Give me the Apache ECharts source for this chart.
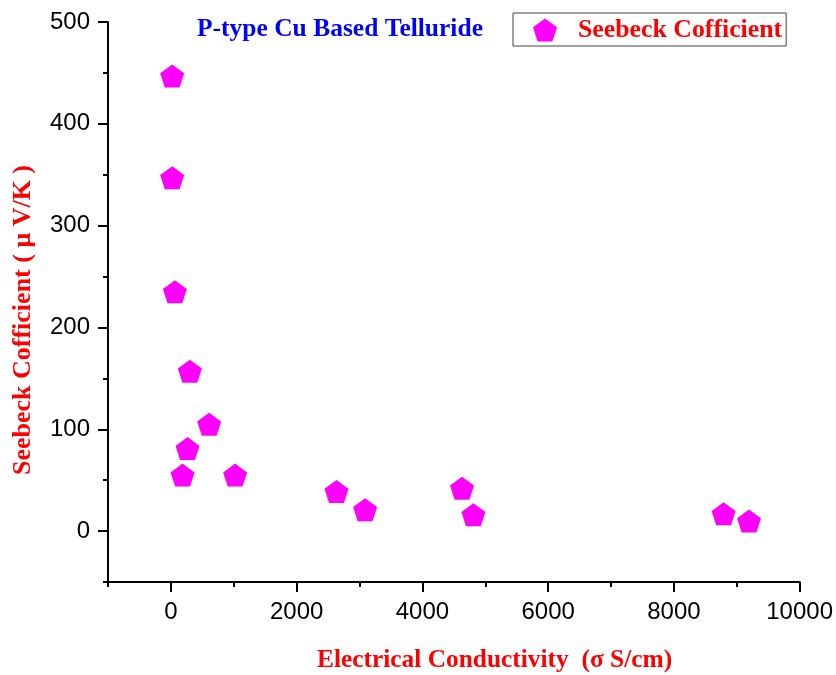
<!DOCTYPE html>
<html>
<head>
<meta charset="utf-8">
<script src="https://cdn.jsdelivr.net/npm/echarts@6/dist/echarts.min.js"></script>
<style>
html,body{margin:0;padding:0;background:#fff;}
#main{width:836px;height:675px;}
</style>
</head>
<body>
<div id="main"></div>
<script>
// 数据：电导率 (σ S/cm) 和 塞贝克系数 (μV/K)
var conductivity = [21, 21, 64, 302, 265, 609, 186, 1022, 2634, 3089, 4631, 4812, 8791, 9195];
var seebeck = [447, 347, 235, 157, 81, 105, 55, 55, 39, 21, 42, 16, 17, 10];
var xMajorTicks = [0, 2000, 4000, 6000, 8000, 10000];
var yMajorTicks = [0, 100, 200, 300, 400, 500];

var pentagon = 'path://M0,-1L0.951,-0.309L0.588,0.809L-0.588,0.809L-0.951,-0.309Z';
var serif = '"Liberation Serif", "Times New Roman", serif';
var sans = '"Liberation Sans", Arial, sans-serif';

window.onload = function(){
    var myChart = echarts.init(document.getElementById('main'));
    var points = [];
    for(var i = 0; i < conductivity.length; i++){
        points.push([conductivity[i], seebeck[i]]);
    }
    var lineStyle = {color:'#000', width:2};

    var option = {
        backgroundColor:'#fff',
        animation:false,
        title:{
            text:'P-type Cu Based Telluride',
            left:197, top:16, padding:0,
            textStyle:{color:'#0000ff', fontFamily:serif, fontWeight:'bold', fontSize:25.5}
        },
        legend:{
            left:513, top:13,
            padding:[4, 4, 3, 20],
            itemGap:0,
            itemWidth:24, itemHeight:23,
            borderColor:'#444', borderWidth:1,
            icon:pentagon,
            textStyle:{color:'#ff0000', fontFamily:serif, fontWeight:'bold', fontSize:25.8, padding:[0,0,0,16]},
            data:['Seebeck Cofficient']
        },
        grid:{left:108, right:36, top:22, bottom:93, containLabel:false},
        xAxis:[{
            type:'value', min:-1000, max:10000, interval:1000,
            axisLine:{show:true, onZero:false, lineStyle:lineStyle},
            axisTick:{show:true, length:5, lineStyle:lineStyle},
            axisLabel:{
                margin:18, color:'#000', fontFamily:sans, fontSize:24,
                formatter:function(v){ return v % 2000 === 0 && v >= 0 ? String(v) : ''; }
            },
            splitLine:{show:false}
        },{
            type:'value', min:-1000, max:10000, position:'bottom',
            axisLine:{show:false, onZero:false},
            axisTick:{show:true, length:10, lineStyle:lineStyle, customValues:xMajorTicks},
            axisLabel:{show:false},
            splitLine:{show:false}
        }],
        yAxis:[{
            type:'value', min:-50, max:500, interval:50,
            axisLine:{show:true, onZero:false, lineStyle:lineStyle},
            axisTick:{show:true, length:5, lineStyle:lineStyle},
            axisLabel:{
                margin:18, color:'#000', fontFamily:sans, fontSize:24,
                formatter:function(v){ return v % 100 === 0 ? String(v) : ''; }
            },
            splitLine:{show:false}
        },{
            type:'value', min:-50, max:500, position:'left',
            axisLine:{show:false, onZero:false},
            axisTick:{show:true, length:10, lineStyle:lineStyle, customValues:yMajorTicks},
            axisLabel:{show:false},
            splitLine:{show:false}
        }],
        graphic:[{
            type:'text',
            left:317, top:648,
            style:{text:'Electrical Conductivity  (σ S/cm)', fill:'#ff0000',
                font:'bold 25.4px ' + serif}
        },{
            type:'text',
            x:23, y:320,
            rotation:Math.PI/2,
            style:{text:'Seebeck Cofficient ( μ V/K )', fill:'#ff0000',
                font:'bold 26px ' + serif, align:'center', verticalAlign:'middle'}
        }],
        series:[{
            name:'Seebeck Cofficient',
            type:'scatter',
            symbol:pentagon,
            symbolSize:[24, 23],
            itemStyle:{color:'#ff00ff', opacity:1},
            data:points
        }]
    };
    myChart.setOption(option);
};
</script>
</body>
</html>
